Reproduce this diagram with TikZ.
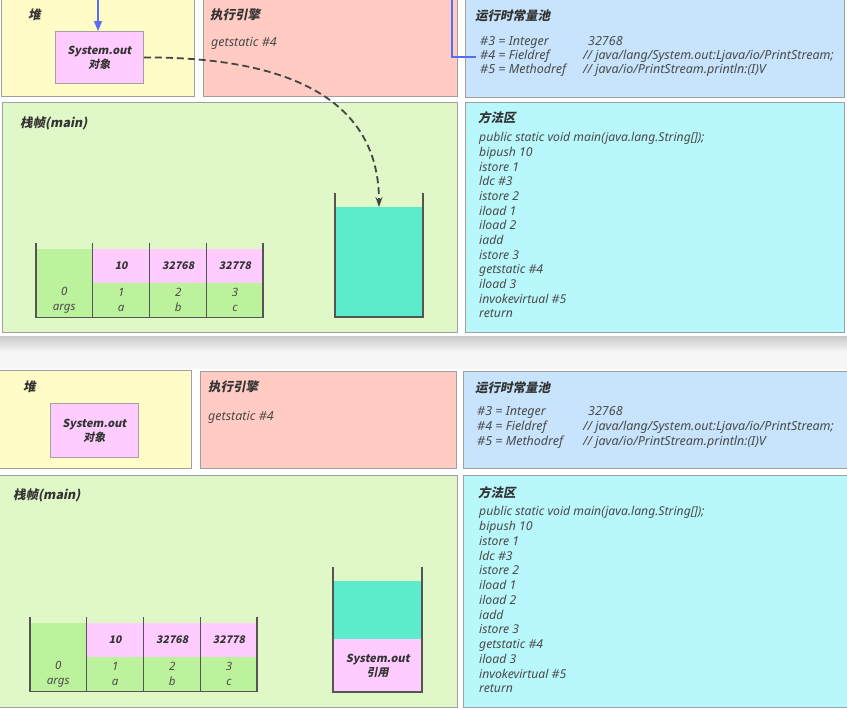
\documentclass[tikz,border=0pt]{standalone}
\usepackage{fontspec}
\setmainfont{Noto Sans}
\newfontfamily\hdr{Noto Sans CJK SC}[FakeSlant=0.2]
\usetikzlibrary{arrows.meta}
\definecolor{heapc}{HTML}{FFFCC8}
\definecolor{execc}{HTML}{FFCBC3}
\definecolor{poolc}{HTML}{C7E4FC}
\definecolor{framec}{HTML}{E0F8C8}
\definecolor{methc}{HTML}{B8F7FB}
\definecolor{pinkc}{HTML}{FFCCFF}
\definecolor{slotc}{HTML}{BDF29C}
\definecolor{tealc}{HTML}{5CEBCB}
\definecolor{edgec}{HTML}{A0A0A0}
\definecolor{txtc}{HTML}{4A4A4A}
\definecolor{hdrc}{HTML}{333333}
\definecolor{linec}{HTML}{555555}
\definecolor{bluec}{HTML}{5A6CF0}
\definecolor{dashc}{HTML}{444444}
\tikzset{
  panel/.style={draw=edgec, line width=0.8pt, anchor=north west, inner sep=0pt},
  hd/.style={font=\hdr\bfseries\fontsize{12.5}{14}\selectfont, text=hdrc, anchor=west, inner sep=0pt},
  code/.style={font=\itshape\fontsize{12.2}{13}\selectfont, text=txtc, anchor=west, inner sep=0pt, text height=8pt, text depth=2.5pt},
  pcode/.style={font=\itshape\fontsize{12.5}{13}\selectfont, text=txtc, anchor=west, inner sep=0pt, text height=8pt, text depth=2.5pt},
  objbox/.style={draw=edgec, line width=0.8pt, fill=pinkc, anchor=north west, inner sep=0pt},
  objtxt/.style={font=\hdr\bfseries\fontsize{11}{14}\selectfont, text=hdrc, align=center, inner sep=0pt},
  cellp/.style={fill=pinkc, anchor=north west, inner sep=0pt, font=\hdr\bfseries\fontsize{10.5}{12}\selectfont, text=hdrc},
  cellg/.style={fill=slotc, anchor=north west, inner sep=0pt, font=\itshape\fontsize{11.5}{15}\selectfont, text=txtc, align=center},
  tline/.style={draw=linec, line width=1.3pt},
  blueln/.style={draw=bluec, line width=1.3pt},
  dasharrow/.style={draw=dashc, line width=1.8pt, dash pattern=on 7pt off 4pt, -{Stealth[length=10pt,width=7pt]}}
}
\newcommand\lvtable[2]{%
\begin{scope}[shift={#1}]
  \node[cellg, minimum width=56.5, minimum height=68.5] (s0#2) at (0,6) {};
  \node[cellp, minimum width=57, minimum height=33.5] (p1#2) at (56.5,6) {10};
  \node[cellp, minimum width=57, minimum height=33.5] (p2#2) at (113.5,6) {32768};
  \node[cellp, minimum width=56.5, minimum height=33.5] (p3#2) at (170.5,6) {32778};
  \node[cellg, minimum width=57, minimum height=35] (g1#2) at (56.5,39.5) {1\\a};
  \node[cellg, minimum width=57, minimum height=35] (g2#2) at (113.5,39.5) {2\\b};
  \node[cellg, minimum width=56.5, minimum height=35] (g3#2) at (170.5,39.5) {3\\c};
  \node[cellg, fill=none, anchor=center] (g0#2) at (28.25,57) {0\\args};
  \draw[tline] (0,0) -- (0,74.5) -- (227,74.5) -- (227,0);
  \draw[tline] (56.5,0) -- (56.5,74.5);
  \draw[tline] (113.5,0) -- (113.5,74.5);
  \draw[tline] (170.5,0) -- (170.5,74.5);
\end{scope}}
\begin{document}
\begin{tikzpicture}[x=1pt,y=-1pt]
\useasboundingbox (0,0) rectangle (847,710);
\fill[white] (0,0) rectangle (847,710);
% shadow band between the two screenshots
\shade[top color=gray!42, bottom color=gray!6] (0,336) rectangle (847,352);
\fill[gray!6] (0,352) rectangle (847,369);

% ================= top panel =================
\node[panel, fill=heapc, minimum width=193, minimum height=106] (heap1) at (1,-10) {};
\node[panel, fill=execc, minimum width=254, minimum height=106] (exec1) at (203,-10) {};
\node[panel, fill=poolc, minimum width=379, minimum height=107] (pool1) at (465,-10) {};
\node[panel, fill=framec, minimum width=455, minimum height=230] (frame1) at (2,102) {};
\node[panel, fill=methc, minimum width=379, minimum height=230] (meth1) at (465,102) {};

\node[hd] (heap1t) at (28,15) {堆};
\node[hd] (exec1t) at (210,15) {执行引擎};
\node[pcode] (exec1c) at (211,44) {getstatic \#4};
\node[hd] (pool1t) at (475,16) {运行时常量池};
\node[pcode] (p1a) at (480,43) {\#3 = Integer};
\node[pcode] (p1b) at (480,57) {\#4 = Fieldref};
\node[pcode] (p1c) at (480,71) {\#5 = Methodref};
\node[pcode] (p1d) at (588,43) {32768};
\node[pcode] (p1e) at (583,57) {// java/lang/System.out:Ljava/io/PrintStream;};
\node[pcode] (p1f) at (583,71) {// java/io/PrintStream.println:(I)V};

\node[objbox, minimum width=88, minimum height=52] (obj1) at (55,31) {};
\node[objtxt] (obj1t) at (obj1.center) {System.out\\对象};

\node[hd] (frame1t) at (20,123) {栈帧(main)};
\node[hd] (meth1t) at (478,118) {方法区};
\foreach \t [count=\i] in {{public static void main(java.lang.String[]);},{bipush 10},{istore 1},{ldc \#3},{istore 2},{iload 1},{iload 2},{iadd},{istore 3},{getstatic \#4},{iload 3},{invokevirtual \#5},{return}}
  \node[code] (ma\i) at (479,{139+14.67*(\i-1)}) {\t};

\lvtable{(36,243)}{A}

% operand stack (top)
\fill[tealc] (335,207) rectangle (423,317);
\draw[tline] (335,193) -- (335,317) -- (423,317) -- (423,193);
\coordinate (ostop1) at (379,207);

% connectors (top)
\coordinate (bluetop1) at (98,-2);
\draw[blueln, -{Triangle[length=10pt,width=8pt]}] (bluetop1) -- (obj1.north -| bluetop1);
\coordinate (bluetop2) at (452,-2);
\draw[blueln] (bluetop2) |- ([xshift=-4pt]p1b.west);
\draw[dasharrow] (obj1.east) .. controls (290,57) and (379,100) .. (ostop1);

% ================= bottom panel =================
\node[panel, fill=heapc, minimum width=192, minimum height=98] (heap2) at (-1,370) {};
\node[panel, fill=execc, minimum width=256, minimum height=97] (exec2) at (200,371) {};
\node[panel, fill=poolc, minimum width=395, minimum height=97] (pool2) at (463,371) {};
\node[panel, fill=framec, minimum width=458, minimum height=232] (frame2) at (-1,475) {};
\node[panel, fill=methc, minimum width=395, minimum height=232] (meth2) at (463,475) {};

\node[hd] (heap2t) at (23,387) {堆};
\node[hd] (exec2t) at (208,387) {执行引擎};
\node[pcode] (exec2c) at (208,418) {getstatic \#4};
\node[hd] (pool2t) at (475,388) {运行时常量池};
\node[pcode] (p2a) at (477,413) {\#3 = Integer};
\node[pcode] (p2b) at (477,428) {\#4 = Fieldref};
\node[pcode] (p2c) at (477,443) {\#5 = Methodref};
\node[pcode] (p2d) at (588,413) {32768};
\node[pcode] (p2e) at (583,428) {// java/lang/System.out:Ljava/io/PrintStream;};
\node[pcode] (p2f) at (583,443) {// java/io/PrintStream.println:(I)V};

\node[objbox, minimum width=88, minimum height=54] (obj2) at (50,403) {};
\node[objtxt] (obj2t) at (obj2.center) {System.out\\对象};

\node[hd] (frame2t) at (13,495) {栈帧(main)};
\node[hd] (meth2t) at (478,493) {方法区};
\foreach \t [count=\i] in {{public static void main(java.lang.String[]);},{bipush 10},{istore 1},{ldc \#3},{istore 2},{iload 1},{iload 2},{iadd},{istore 3},{getstatic \#4},{iload 3},{invokevirtual \#5},{return}}
  \node[code] (mb\i) at (479,{513+14.75*(\i-1)}) {\t};

\lvtable{(30,617)}{B}

% operand stack (bottom)
\fill[tealc] (333,581) rectangle (422,639);
\node[fill=pinkc, anchor=north west, inner sep=0pt, minimum width=89, minimum height=53] (os2) at (333,639) {};
\node[objtxt] (os2t) at (os2.center) {System.out\\引用};
\draw[tline] (333,567) -- (333,692) -- (422,692) -- (422,567);
\end{tikzpicture}
\end{document}
